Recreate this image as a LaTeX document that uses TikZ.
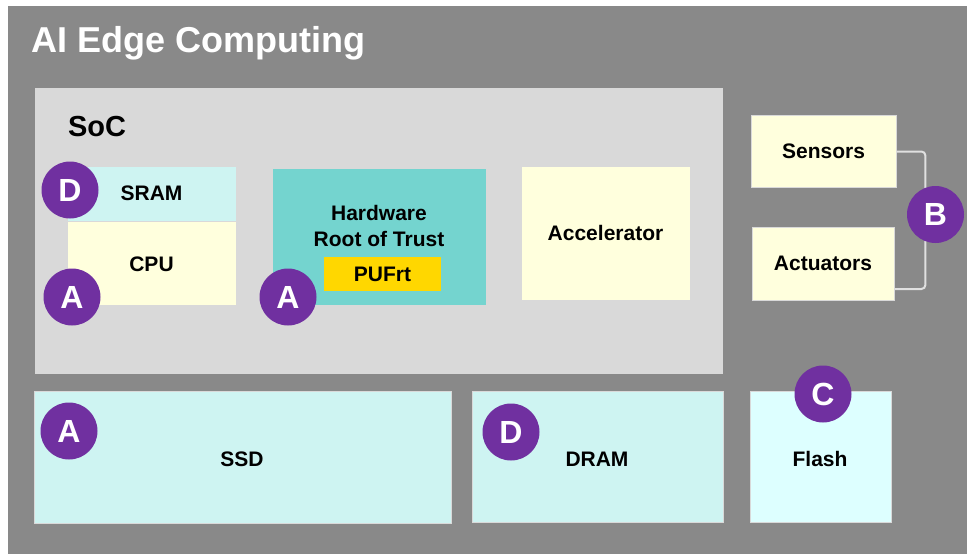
\documentclass[tikz,border=0pt]{standalone}
\usepackage{fontspec}
\setmainfont{Liberation Sans}
\usepackage{tikz}
\usetikzlibrary{positioning}
\usepackage{xcolor}

\definecolor{bgGray}{HTML}{898989}
\definecolor{socGray}{HTML}{D9D9D9}
\definecolor{tagPurple}{HTML}{7030A0}
\definecolor{paleYellow}{HTML}{FFFFDD}
\definecolor{paleCyan}{HTML}{CEF4F2}
\definecolor{flashCyan}{HTML}{DDFFFF}
\definecolor{rotTeal}{HTML}{74D4CF}
\definecolor{pufGold}{HTML}{FFD700}

\begin{document}
\begin{tikzpicture}[x=1pt, y=-1pt,
    block/.style={draw=black!15, line width=0.8pt, inner sep=0pt, font=\fontsize{21}{25}\selectfont\bfseries, align=center},
    tag/.style={circle, fill=tagPurple, text=white, minimum size=57pt, inner sep=0pt, font=\fontsize{32}{32}\selectfont\bfseries}]
    \useasboundingbox (0,0) rectangle (967,554);
    % Background
    \fill[bgGray] (8,6) rectangle (967,554);
    \node[white, anchor=west, font=\fontsize{36}{40}\selectfont\bfseries] (title) at (28,43) {AI Edge Computing};

    % SoC
    \node[fill=socGray, inner sep=0pt, minimum width=688pt, minimum height=286pt] (soc) at (379,231) {};
    \node[font=\fontsize{29}{32}\selectfont\bfseries] (soclabel) at (97,127) {SoC};
    \node[block, fill=paleCyan, minimum width=169pt, minimum height=55pt] (sram) at (151.5,193.5) {SRAM};
    \node[block, fill=paleYellow, minimum width=169pt, minimum height=84pt, below=0pt of sram] (cpu) {CPU};
    \node[block, fill=rotTeal, minimum width=214pt, minimum height=137pt] (rot) at (379,236.5) {};
    \node[font=\fontsize{21}{26}\selectfont\bfseries, align=center] (rotlabel) at (379,226) {Hardware\\Root of Trust};
    \node[block, draw=none, fill=pufGold, minimum width=117pt, minimum height=34pt] (puf) at (382.5,274) {PUFrt};
    \node[block, fill=paleYellow, minimum width=169pt, minimum height=134pt] (accel) at (605.5,233) {Accelerator};
    \node[tag] (tagD1) at (70,190) {D};
    \node[tag] (tagA1) at (72,297) {A};
    \node[tag] (tagA2) at (288,297) {A};

    % Sensors and actuators
    \node[block, fill=paleYellow, minimum width=145pt, minimum height=72pt] (sensors) at (823.5,151.5) {Sensors};
    \node[block, fill=paleYellow, minimum width=142pt, minimum height=73pt] (actuators) at (823,263.5) {Actuators};
    \coordinate (actend) at (895,289);
    \draw[black!12, line width=2pt, rounded corners=4pt] (sensors.east) -- ++(29,0) |- (actend);
    \node[tag] (tagB) at (935.5,214.5) {B};

    % Memories
    \node[block, fill=paleCyan, minimum width=417pt, minimum height=132pt] (ssd) at (242.5,457) {};
    \node[block, fill=paleCyan, minimum width=251pt, minimum height=131pt] (dram) at (597.5,456.5) {};
    \node[block, fill=flashCyan, minimum width=141pt, minimum height=131pt] (flash) at (820.5,456.5) {};
    \node[block, draw=none] (ssdlabel) at (242,459) {SSD};
    \node[block, draw=none] (dramlabel) at (597,459) {DRAM};
    \node[block, draw=none] (flashlabel) at (820,459) {Flash};
    \node[tag] (tagA3) at (69,431) {A};
    \node[tag] (tagD2) at (511,432) {D};
    \node[tag] (tagC) at (823,394) {C};
\end{tikzpicture}
\end{document}
